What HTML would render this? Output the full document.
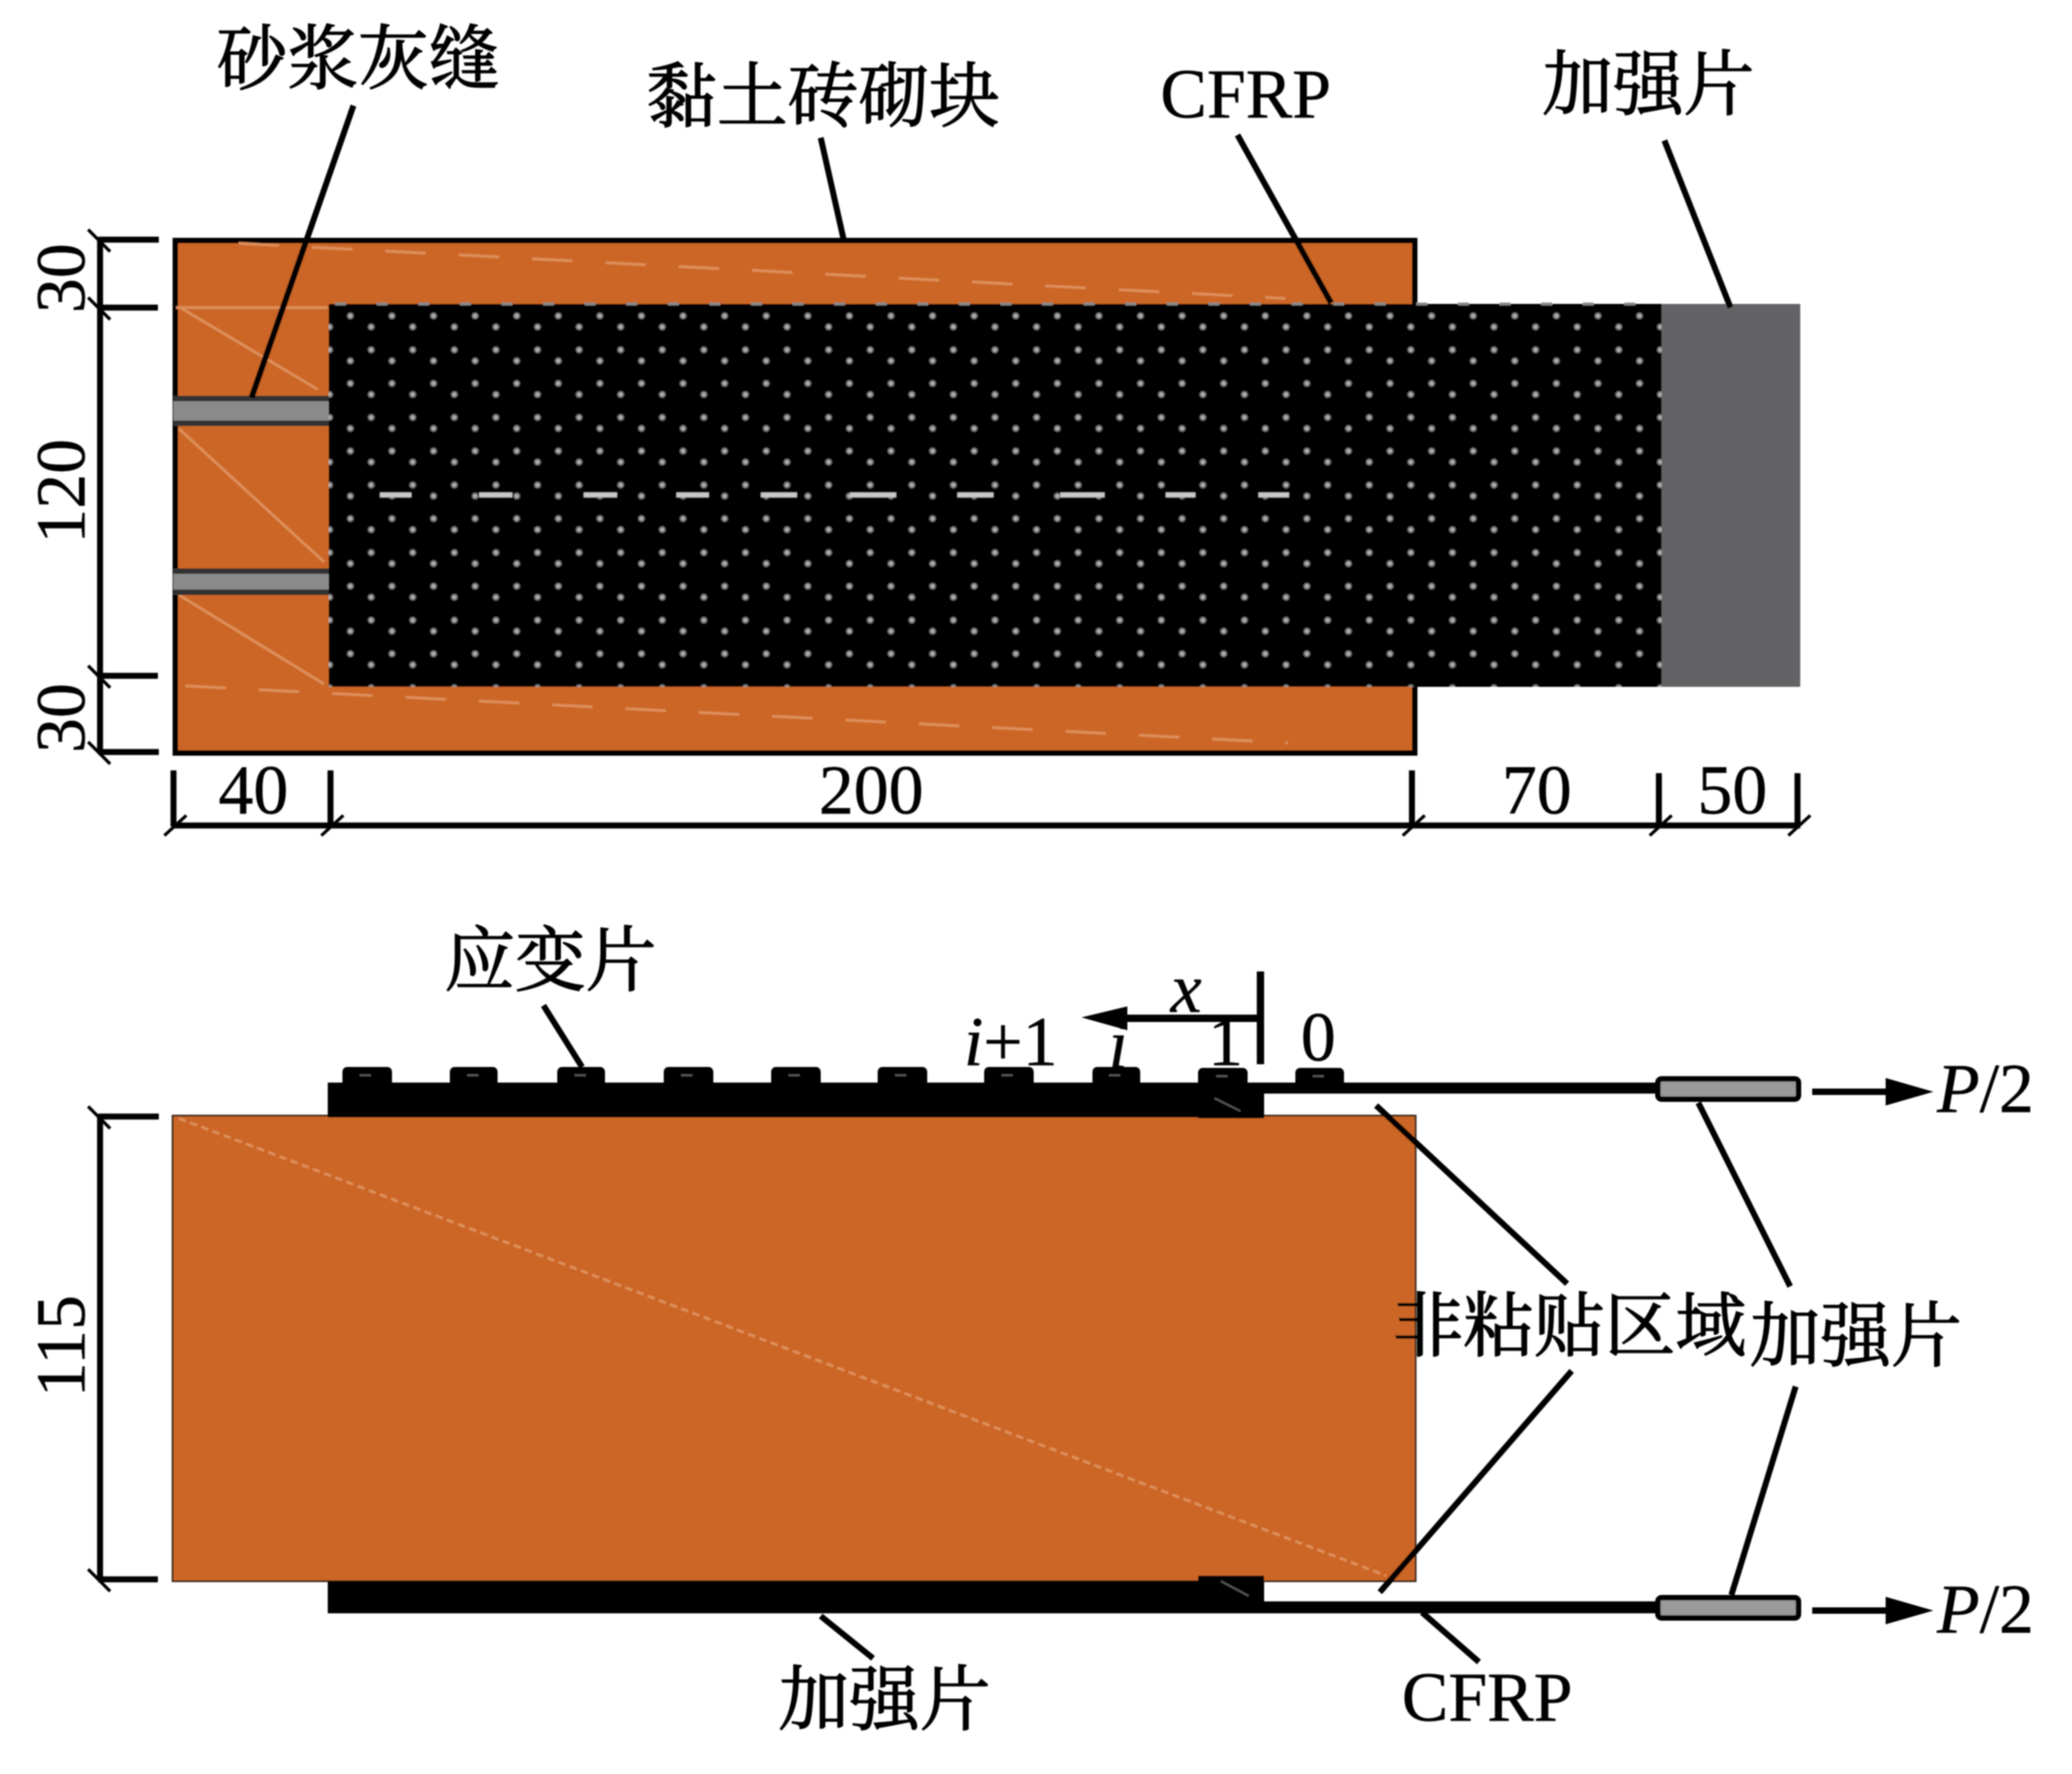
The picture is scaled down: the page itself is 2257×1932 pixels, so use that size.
<!DOCTYPE html>
<html><head><meta charset="utf-8"><style>
html,body{margin:0;padding:0;background:#fff;width:2257px;height:1932px;overflow:hidden}
svg{display:block}
.s{font-family:"Noto Serif CJK SC","Liberation Serif",serif;font-size:77px;fill:#000;stroke:#000;stroke-width:1.3}
.t{font-family:"Liberation Serif","Noto Serif CJK SC",serif;font-size:76px;fill:#000;stroke:#000;stroke-width:.5}
.i{font-style:italic}
.l{stroke:#000;stroke-width:6.5;fill:none}
.d{stroke:#000;stroke-width:6.5;fill:none}
.k{stroke:#000;stroke-width:3.5;fill:none}
.f{stroke:#de8f5a;stroke-width:3;fill:none}
</style></head><body>
<svg width="2257" height="1932" viewBox="0 0 2257 1932" xmlns="http://www.w3.org/2000/svg">
<defs>
<radialGradient id="g"><stop offset="0" stop-color="#c8c8c8"/><stop offset="0.55" stop-color="#8c8c8c"/><stop offset="1" stop-color="#000"/></radialGradient>
<pattern id="dots" patternUnits="userSpaceOnUse" x="359" y="340" width="45.3" height="73.6">
<circle cx="22.65" cy="4" r="4.5" fill="url(#g)"/><circle cx="22.65" cy="53" r="4.5" fill="url(#g)"/>
<circle cx="0" cy="16" r="4.5" fill="url(#g)"/><circle cx="45.3" cy="16" r="4.5" fill="url(#g)"/>
<circle cx="0" cy="41" r="4.5" fill="url(#g)"/><circle cx="45.3" cy="41" r="4.5" fill="url(#g)"/>
</pattern>
<filter id="b" x="0" y="0" width="100%" height="100%"><feGaussianBlur stdDeviation="0.8"/></filter>
</defs>
<rect width="2257" height="1932" fill="#fff"/>
<g filter="url(#b)">
<!-- top view -->
<rect x="191" y="262" width="1350" height="558" fill="#CC6626" stroke="#000" stroke-width="6"/>
<path class="f" stroke-dasharray="44 36" d="M260 265L1400 325M202 747L1403 809"/>
<path class="f" stroke-width="2.5" d="M192 335H357M198 336L346 424M195 467L353 612M195 648L353 745"/>
<rect x="189" y="431" width="169" height="33" fill="#333"/><rect x="189" y="437" width="169" height="21" fill="#8a8a8a"/>
<rect x="189" y="619" width="169" height="29" fill="#333"/><rect x="189" y="625" width="169" height="17" fill="#8a8a8a"/>
<rect x="358" y="331" width="1452" height="417" fill="#000"/>
<rect x="358" y="331" width="1452" height="417" fill="url(#dots)"/>
<path stroke="#888" stroke-width="3" stroke-dasharray="12 33.3" d="M365 331H1810"/>
<rect x="1810" y="331" width="151" height="417" fill="#646466"/>
<path stroke="#c8c8c8" stroke-width="5" fill="none" d="M414 539H448M522 539H558M636 539H672M737 539H772M829 539H868M926 539H976M1043 539H1082M1155 539H1203M1270 539H1302M1371 539H1404"/>
<!-- top dims -->
<path class="d" stroke-width="5.5" d="M109 261V819"/>
<path class="d" d="M107 261H173M107 335H172M107 736H172M107 819H173"/>
<path class="k" d="M96 250L120 274M96 324L120 348M96 725L120 749M96 808L120 832"/>
<path class="d" stroke-width="5.5" d="M189 899H1961"/>
<path class="d" d="M189 839V900M360 839V900M1538 839V900M1807 842V900M1958 842V900"/>
<path class="k" d="M179 910L203 888M350 910L374 888M1528 910L1552 888M1797 910L1821 888M1948 910L1972 888"/>
<text class="t" transform="translate(92,303) rotate(-90)" text-anchor="middle">30</text>
<text class="t" transform="translate(92,535) rotate(-90)" text-anchor="middle">120</text>
<text class="t" transform="translate(92,782) rotate(-90)" text-anchor="middle">30</text>
<text class="t" x="276" y="886" text-anchor="middle">40</text>
<text class="t" x="949" y="886" text-anchor="middle">200</text>
<text class="t" x="1674" y="886" text-anchor="middle">70</text>
<text class="t" x="1887" y="886" text-anchor="middle">50</text>
<!-- top labels -->
<text class="s" x="236" y="91">砂浆灰缝</text>
<text class="s" x="704" y="132">黏土砖砌块</text>
<text class="t" x="1264" y="128">CFRP</text>
<text class="s" x="1680" y="119">加强片</text>
<path class="l" d="M385 115L274 433M894 150L919 261M1348 147L1450 330M1813 153L1885 335"/>
<!-- bottom view -->
<rect x="188" y="1215" width="1354" height="507" fill="#CC6626" stroke="#3a2a1a" stroke-width="2"/>
<path class="f" stroke-width="2.5" stroke-dasharray="8 5" d="M195 1218L1510 1716"/>
<path fill="#000" d="M357 1179H1377V1217H357ZM357 1722H1377V1757H357Z"/>
<g fill="#000"><rect x="373" y="1162" width="54" height="22" rx="5"/><rect x="490" y="1162" width="52" height="22" rx="5"/><rect x="607" y="1162" width="52" height="22" rx="5"/><rect x="723" y="1162" width="54" height="22" rx="5"/><rect x="840" y="1162" width="54" height="22" rx="5"/><rect x="956" y="1162" width="54" height="22" rx="5"/><rect x="1072" y="1162" width="54" height="22" rx="5"/><rect x="1190" y="1162" width="52" height="22" rx="5"/><rect x="1411" y="1163" width="53" height="22" rx="5"/><rect x="1305" y="1163" width="54" height="22" rx="5"/></g>
<rect x="1305" y="1179" width="72" height="39" fill="#000"/>
<rect x="1305" y="1716" width="72" height="10" fill="#000"/>
<path stroke="#555" stroke-width="2" fill="none" d="M392 1171h12M509 1171h12M626 1171h12M742 1171h12M859 1171h12M975 1171h12M1091 1171h12M1208 1171h12M1325 1172h12M1430 1172h12M1323 1196l28 14M1330 1722l30 16"/>
<path fill="#000" d="M1377 1179H1806V1191H1377ZM1377 1744H1806V1757H1377Z"/>
<rect x="1806" y="1175" width="153" height="22" rx="4" fill="#9a9a9a" stroke="#000" stroke-width="6"/>
<rect x="1806" y="1740" width="153" height="22" rx="4" fill="#9a9a9a" stroke="#000" stroke-width="6"/>
<path d="M1974 1189H2060" stroke="#000" stroke-width="7"/><path d="M2054 1174L2106 1189L2054 1204Z" fill="#000"/>
<path d="M1974 1754H2060" stroke="#000" stroke-width="7"/><path d="M2054 1739L2106 1754L2054 1769Z" fill="#000"/>
<path d="M1373 1058V1159" stroke="#000" stroke-width="8"/>
<path d="M1373 1109H1222" stroke="#000" stroke-width="8"/><path d="M1228 1096L1178 1108L1228 1122Z" fill="#000"/>
<text class="t i" x="1292" y="1102" text-anchor="middle">x</text>
<text class="t" x="1050" y="1160"><tspan class="i">i</tspan>+1</text>
<text class="t i" x="1218" y="1163" text-anchor="middle">i</text>
<text class="t" x="1335" y="1160" text-anchor="middle">1</text>
<text class="t" x="1436" y="1155" text-anchor="middle">0</text>
<text class="t" x="2110" y="1211"><tspan class="i">P</tspan>/2</text>
<text class="t" x="2110" y="1778"><tspan class="i">P</tspan>/2</text>
<!-- bottom dims -->
<path class="d" stroke-width="5.5" d="M109 1216V1720"/>
<path class="d" d="M107 1216H173M107 1720H172"/>
<path class="k" d="M96 1205L120 1229M96 1709L120 1733"/>
<text class="t" transform="translate(92,1466) rotate(-90)" text-anchor="middle">115</text>
<!-- bottom labels -->
<text class="s" x="484" y="1073">应变片</text>
<text class="s" x="848" y="1878">加强片</text>
<text class="t" x="1527" y="1874">CFRP</text>
<text class="s" x="1517" y="1471">非粘贴区域</text>
<text class="s" x="1906" y="1482">加强片</text>
<path class="l" d="M592 1095L634 1162M894 1760L951 1806M1549 1756L1611 1810M1499 1204L1707 1398M1712 1493L1503 1734M1850 1201L1950 1401M1956 1510L1886 1737"/>
</g>
</svg>
</body></html>
